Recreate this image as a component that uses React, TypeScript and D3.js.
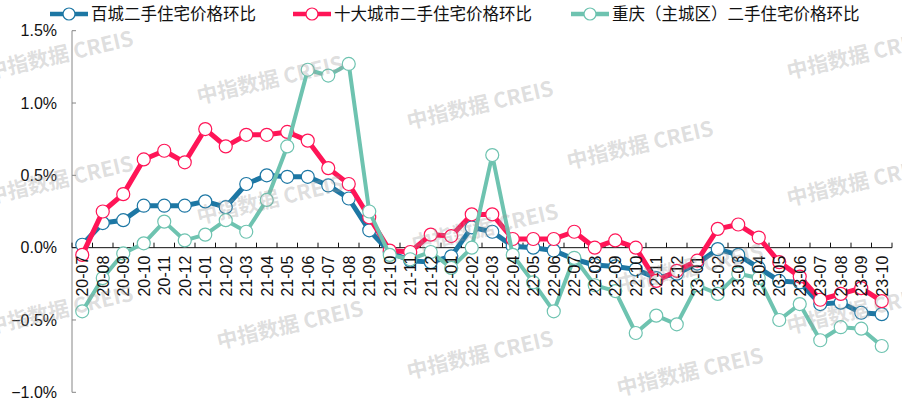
import React from "react";
import * as d3 from "d3";

const months = [
  "20-07", "20-08", "20-09", "20-10", "20-11", "20-12",
  "21-01", "21-02", "21-03", "21-04", "21-05", "21-06", "21-07", "21-08", "21-09", "21-10", "21-11", "21-12",
  "22-01", "22-02", "22-03", "22-04", "22-05", "22-06", "22-07", "22-08", "22-09", "22-10", "22-11", "22-12",
  "23-01", "23-02", "23-03", "23-04", "23-05", "23-06", "23-07", "23-08", "23-09", "23-10",
];

const baichengValues = [
  0.02, 0.17, 0.19, 0.29, 0.29, 0.29,
  0.32, 0.28, 0.44, 0.50, 0.49, 0.49, 0.43, 0.34, 0.12, -0.03, -0.09, -0.10,
  -0.06, 0.14, 0.11, 0.01, 0.00, -0.02, -0.08, -0.12, -0.13, -0.15, -0.21, -0.18,
  -0.11, -0.01, -0.05, -0.14, -0.23, -0.24, -0.39, -0.38, -0.45, -0.46,
];

const tenCitiesValues = [
  -0.05, 0.25, 0.37, 0.61, 0.67, 0.59,
  0.82, 0.70, 0.78, 0.78, 0.80, 0.74, 0.55, 0.44, 0.21, -0.02, -0.03, 0.09,
  0.08, 0.23, 0.23, 0.06, 0.06, 0.06, 0.11, 0.00, 0.05, 0.00, -0.23, -0.16,
  -0.09, 0.13, 0.16, 0.07, -0.10, -0.20, -0.36, -0.32, -0.28, -0.37,
];

const chongqingValues = [
  -0.44, -0.21, -0.04, 0.03, 0.18, 0.05,
  0.09, 0.19, 0.11, 0.33, 0.70, 1.23, 1.19, 1.27, 0.25, -0.05, -0.08, -0.03,
  -0.14, 0.00, 0.64, -0.05, -0.24, -0.44, -0.07, -0.26, -0.30, -0.59, -0.47, -0.53,
  -0.26, -0.32, -0.18, -0.21, -0.50, -0.39, -0.64, -0.55, -0.56, -0.68,
];

const seriesNames = ["百城二手住宅价格环比", "十大城市二手住宅价格环比", "重庆（主城区）二手住宅价格环比"];
const seriesColors = ["#1d77a4", "#ff1557", "#6ec3b0"];
const seriesWidths = [5, 5, 4];
const yTicks = [1.5, 1.0, 0.5, 0, -0.5, -1.0];

const watermarkPos: [number, number][] = [
  [60, 55], [60, 180], [60, 310],
  [270, 80], [270, 200], [290, 325],
  [480, 105], [485, 228], [480, 355],
  [640, 145], [690, 268], [690, 372],
  [860, 55], [860, 182], [860, 310],
];

const FONT = "'Liberation Sans', Arial, 'Noto Sans CJK SC', sans-serif";
const CJK = "'Noto Sans CJK SC', 'Liberation Sans', sans-serif";

export default function App() {
  const W = 902, H = 406;
  const left = 72, right = 892;
  const x = d3.scaleBand<string>().domain(months).range([left, right]).padding(0);
  const y = d3.scaleLinear().domain([-1, 1.5]).range([392.3, 30.7]);
  const cx = (m: string) => (x(m) as number) + x.bandwidth() / 2;
  const series = [baichengValues, tenCitiesValues, chongqingValues];
  const line = d3.line<number>().x((_, i) => cx(months[i])).y((v) => y(v));
  const y0 = y(0);
  const boundaries = d3.range(months.length + 1).map((i) => left + i * x.bandwidth());
  const legendItems = [
    { lx: 50, tx: 91 },
    { lx: 293, tx: 334 },
    { lx: 571, tx: 612 },
  ];

  return (
    <div style={{ position: "fixed", left: 0, top: 0 }}>
      <svg width={W} height={H} style={{ display: "block", background: "#fff" }}>
        {/* y axis */}
        <line x1={left} x2={left} y1={y(1.5)} y2={y(-1)} stroke="#868686" strokeWidth={1} />
        {yTicks.map((t) => (
          <g key={t}>
            <line x1={left} x2={left + 4} y1={y(t)} y2={y(t)} stroke="#868686" strokeWidth={1} />
            <text x={57} y={y(t)} dy="0.36em" textAnchor="end" fontFamily={FONT} fontSize={16} fill="#111">
              {d3.format(".1f")(t) + "%"}
            </text>
          </g>
        ))}
        {/* x axis */}
        <line x1={left} x2={right} y1={y0} y2={y0} stroke="#111" strokeWidth={1} />
        {boundaries.map((b, i) => (
          <line key={i} x1={b} x2={b} y1={y0} y2={y0 - 5} stroke="#111" strokeWidth={1} />
        ))}
        {/* series */}
        {series.map((vals, si) => (
          <g key={si}>
            <path d={line(vals) || ""} fill="none" stroke={seriesColors[si]} strokeWidth={seriesWidths[si]} strokeLinejoin="round" />
            {vals.map((v, i) => (
              <circle key={i} cx={cx(months[i])} cy={y(v)} r={6.5} fill="#fff" stroke={seriesColors[si]} strokeWidth={1.2} />
            ))}
          </g>
        ))}
        {/* x labels */}
        {months.map((m) => (
          <text
            key={m}
            transform={`translate(${cx(m)},${y0 + 8}) rotate(-90)`}
            dy="0.36em"
            textAnchor="end"
            fontFamily={FONT}
            fontSize={16}
            fill="#111"
          >
            {m}
          </text>
        ))}
        {/* legend */}
        {legendItems.map((it, i) => (
          <g key={i}>
            <line x1={it.lx} x2={it.lx + 38} y1={14} y2={14} stroke={seriesColors[i]} strokeWidth={4.5} />
            <circle cx={it.lx + 19} cy={14} r={6} fill="#fff" stroke={seriesColors[i]} strokeWidth={1.2} />
            <text x={it.tx} y={14} dy="0.36em" fontFamily={CJK} fontSize={16.5} fill="#111">
              {seriesNames[i]}
            </text>
          </g>
        ))}
        {/* watermarks */}
        {watermarkPos.map(([wx, wy], i) => (
          <text
            key={i}
            transform={`translate(${wx},${wy}) rotate(-13)`}
            textAnchor="middle"
            dy="0.35em"
            fontFamily={CJK}
            fontWeight="bold"
            fontSize={21}
            fill="#9a9a9a"
            fillOpacity={0.33}
          >
            中指数据  CREIS
          </text>
        ))}
      </svg>
    </div>
  );
}
